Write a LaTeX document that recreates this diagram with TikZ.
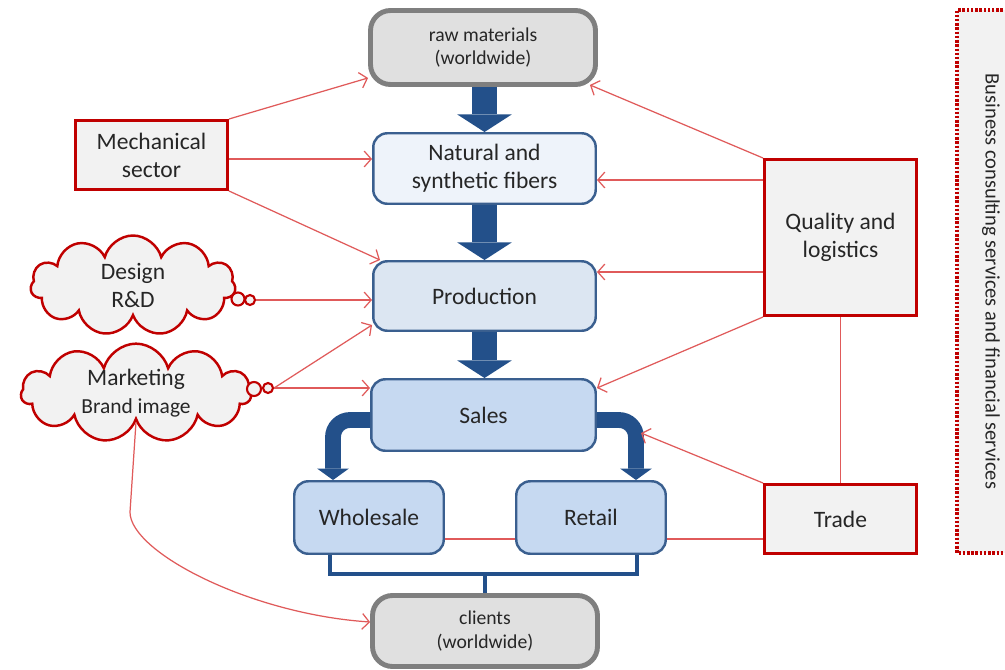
\documentclass[tikz,border=0pt]{standalone}
\usepackage{fontspec}
\setmainfont{Carlito}
\usetikzlibrary{arrows.meta,shapes.symbols,calc}
\definecolor{redb}{HTML}{C00000}
\definecolor{redl}{HTML}{E05A5A}
\definecolor{blueb}{HTML}{3A5F8F}
\definecolor{arrowblue}{HTML}{23508A}
\definecolor{fillA}{HTML}{EEF3FA}
\definecolor{fillB}{HTML}{DCE6F2}
\definecolor{fillC}{HTML}{C6D9F1}
\definecolor{grayb}{HTML}{7F7F7F}
\definecolor{grayf}{HTML}{E0E0E0}
\definecolor{lightf}{HTML}{F2F2F2}
\definecolor{txt}{HTML}{262626}
\begin{document}
\begin{tikzpicture}[x=0.02cm,y=-0.02cm,
 every node/.style={text=txt, font=\fontsize{13.4}{16}\selectfont, align=center, inner sep=0pt},
 bluebox/.style={draw=blueb, line width=1.4pt, rounded corners=0.28cm},
 graybox/.style={draw=grayb, fill=grayf, line width=2.8pt, rounded corners=0.4cm, font=\fontsize{11.2}{13.6}\selectfont},
 redbox/.style={draw=redb, fill=lightf, line width=1.7pt, minimum width=3.04cm},
 cloudbox/.style={cloud, cloud puffs=11, cloud ignores aspect, draw=redb, fill=lightf, line width=1.4pt},
 bubble/.style={circle, draw=redb, fill=lightf, line width=1.2pt},
 redarr/.style={draw=redl, line width=0.7pt, -{Straight Barb[length=4pt,width=9pt]}},
 redline/.style={draw=redl, line width=0.7pt},
 blockarrow/.style={draw=arrowblue, line width=14pt, -{Triangle[width=31pt,length=10pt,line width=0pt]}},
 bendarrow/.style={draw=arrowblue, line width=9pt, rounded corners=0.34cm, -{Triangle[width=18pt,length=6.5pt,line width=0pt]}},
 bracket/.style={draw=arrowblue, line width=2.3pt},
]
\useasboundingbox (0,0) rectangle (1005,670);
\fill[white] (0,0) rectangle (1005,670);

% main chain
\node[graybox, minimum width=4.5cm, minimum height=1.48cm] (raw) at (483,47.5) {raw materials\\(worldwide)};
\node[bluebox, fill=fillA, minimum width=4.45cm, minimum height=1.41cm] (fib) at (484.5,168.5) {Natural and\\synthetic fibers};
\node[bluebox, fill=fillB, minimum width=4.45cm, minimum height=1.39cm] (prod) at (484.5,296) {Production};
\node[bluebox, fill=fillC, minimum width=4.49cm, minimum height=1.43cm] (sales) at (483.5,415) {Sales};
\node[bluebox, fill=fillC, minimum width=2.99cm, minimum height=1.45cm] (whole) at (369,517.5) {Wholesale};
\node[bluebox, fill=fillC, minimum width=2.99cm, minimum height=1.45cm] (retail) at (591,517.5) {Retail};
\node[graybox, minimum width=4.5cm, minimum height=1.42cm] (clients) at (485,631) {clients\\(worldwide)};

% side boxes
\node[redbox, minimum height=1.38cm] (mech) at (151.5,155) {Mechanical\\sector};
\node[redbox, minimum height=3.12cm] (qual) at (840.5,237.5) {Quality and\\logistics};
\node[redbox, minimum height=1.38cm] (trade) at (840.5,519) {Trade};

% clouds
\node[cloudbox, minimum width=4.1cm, minimum height=2.0cm] (design) at (133,285.5) {Design\\R\&D};
\node[bubble, minimum size=0.26cm] (d1) at (238,299) {};
\node[bubble, minimum size=0.2cm] (d2) at (250,300) {};
\node[cloudbox, minimum width=4.6cm, minimum height=1.96cm] (mkt) at (136,393) {Marketing\\\fontsize{12.2}{15}\selectfont Brand image};
\node[bubble, minimum size=0.28cm] (m1) at (254,389) {};
\node[bubble, minimum size=0.2cm] (m2) at (268,388) {};

% business box
\node[draw=redb, fill=lightf, line width=2pt, dash pattern=on 1.4pt off 1pt, rotate=-90,
      minimum width=10.86cm, minimum height=1.36cm, font=\fontsize{11.7}{14}\selectfont] (biz) at (991,281.5)
      {Business consulting services and financial services};

% block arrows
\draw[blockarrow] (fib.north |- raw.south) -- (fib.north);
\draw[blockarrow] (fib.south) -- (prod.north);
\draw[blockarrow] (prod.south) -- (prod.south |- sales.north);
\draw[bendarrow] ([yshift=-0.1cm]sales.west) -| ([xshift=-0.72cm]whole.north);
\draw[bendarrow] ([yshift=-0.1cm]sales.east) -| ([xshift=0.9cm]retail.north);
\draw[bracket] ([xshift=-0.78cm]whole.south) -- ++(0,19) -| ([xshift=0.92cm]retail.south);
\draw[bracket] (clients.north) -- ++(0,-21);

% red connectors
\draw[redarr] (mech.north east) -- ([yshift=0.18cm]raw.south west);
\draw[redarr] ([yshift=-0.08cm]mech.east) -- ([yshift=-0.08cm]mech.east -| fib.west);
\draw[redarr] (mech.south east) -- ([xshift=0.16cm]prod.north west);
\draw[redarr] (d2.east) -- (d2.east -| prod.west);
\draw[redarr] (m2.east) -- ([yshift=0.14cm]prod.south west);
\draw[redarr] (m2.east) -- (m2.east -| sales.west);
\draw[redarr] (mkt.south) -- ++(-6,90) .. controls +(0,40) and +(-120,-8) .. ([yshift=0.18cm]clients.west);
\draw[redarr] (qual.north west) -- ([xshift=-0.16cm,yshift=0.04cm]raw.south east);
\draw[redarr] ([yshift=1.15cm]qual.west) -- ([yshift=1.15cm]qual.west -| fib.east);
\draw[redarr] ([yshift=-0.69cm]qual.west) -- ([yshift=-0.69cm]qual.west -| prod.east);
\draw[redarr] (qual.south west) -- ([yshift=-0.2cm]sales.north east);
\draw[redline] (qual.south) -- (trade.north);
\coordinate (rbend) at (641,433);
\draw[redarr] (trade.north west) -- (rbend);
\draw[redline] ([yshift=-0.4cm]trade.west) -- ([yshift=-0.4cm]trade.west -| retail.east);
\draw[redline] ([yshift=-0.43cm]whole.east) -- ([yshift=-0.43cm]whole.east -| retail.west);
\end{tikzpicture}
\end{document}
